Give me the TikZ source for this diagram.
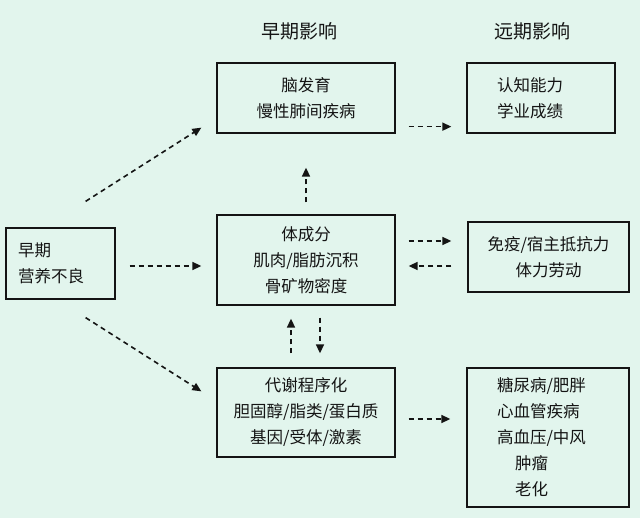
\documentclass[tikz,border=0pt]{standalone}
\usepackage{fontspec}
\newfontfamily\cjk{Noto Sans CJK SC}
\usepackage{tikz}
\usetikzlibrary{calc}
\usetikzlibrary{arrows.meta}
\definecolor{mint}{RGB}{226, 245, 237}
\definecolor{ink}{RGB}{20, 20, 20}

\begin{document}
\begin{tikzpicture}[x=1pt, y=-1pt,
        box/.style={draw=ink, line width=1.3pt, rectangle, inner sep=0pt, align=center,
                    font=\cjk\fontsize{16.5}{26}\selectfont, text=ink},
        head/.style={font=\cjk\fontsize{19}{22}\selectfont, text=ink},
        arr/.style={ink, line width=1.6pt, dash pattern=on 5pt off 4pt,
                    -{Triangle[length=9pt,width=8pt]}}]
            \fill[mint] (0,0) rectangle (640,518);
            \node[head] (hEarly) at (299, 31) {早期影响};
            \node[head] (hLate)  at (532, 31) {远期影响};
            \node[box, minimum width=178pt, minimum height=70pt] (brain) at (306, 98) {脑发育\\慢性肺间疾病};
            \node[box, align=left, text width=88pt, inner xsep=30pt, minimum height=70pt] (cog) at (541, 98) {认知能力\\学业成绩};
            \node[box, align=left, text width=85pt, inner xsep=12pt, minimum height=71pt] (early) at (60.5, 263.5) {早期\\营养不良};
            \node[box, minimum width=178pt, minimum height=90pt] (body) at (306, 260) {体成分\\肌肉/脂肪沉积\\骨矿物密度};
            \node[box, minimum width=161pt, minimum height=70pt] (immune) at (548.5, 257) {免疫/宿主抵抗力\\体力劳动};
            \node[box, minimum width=178pt, minimum height=89pt] (meta) at (306, 412.5) {代谢程序化\\胆固醇/脂类/蛋白质\\基因/受体/激素};
            \node[box, align=left, text width=102pt, inner xsep=30pt, minimum height=139pt] (disease) at (548, 437.5)
                 {糖尿病/肥胖\\心血管疾病\\高血压/中风\\\hspace*{18pt}肿瘤\\\hspace*{18pt}老化};
            \draw[arr] ($(early.north east)+(-30,-26)$) -- ($(brain.south west)+(-15,-6)$);
            \draw[arr] ($(early.south east)+(-30,18)$) -- ($(meta.north west)+(-15,24)$);
            \draw[arr] ($(early.east)+(14,2.5)$) -- ($(body.west)+(-15,6)$);
            \draw[arr, shorten <=12pt, shorten >=34pt] (body.north) -- (brain.south);
            \draw[arr, shorten <=13pt, shorten >=15pt] ($(brain.south east)+(0,-7)$) -- ($(cog.south west)+(0,-7)$);
            \draw[arr] ($(body.east)+(13,-19)$) -- ($(immune.west)+(-16,-16)$);
            \draw[arr] ($(immune.west)+(-16,9)$) -- ($(body.east)+(13,6)$);
            \draw[arr] ($(body.south)+(14,12)$) -- ($(meta.north)+(14,-14)$);
            \draw[arr] ($(meta.north)+(-15,-14)$) -- ($(body.south)+(-15,13)$);
            \draw[arr] ($(meta.east)+(13,6.5)$) -- ($(disease.west)+(-16,-18.5)$);
        \end{tikzpicture}
\end{document}
